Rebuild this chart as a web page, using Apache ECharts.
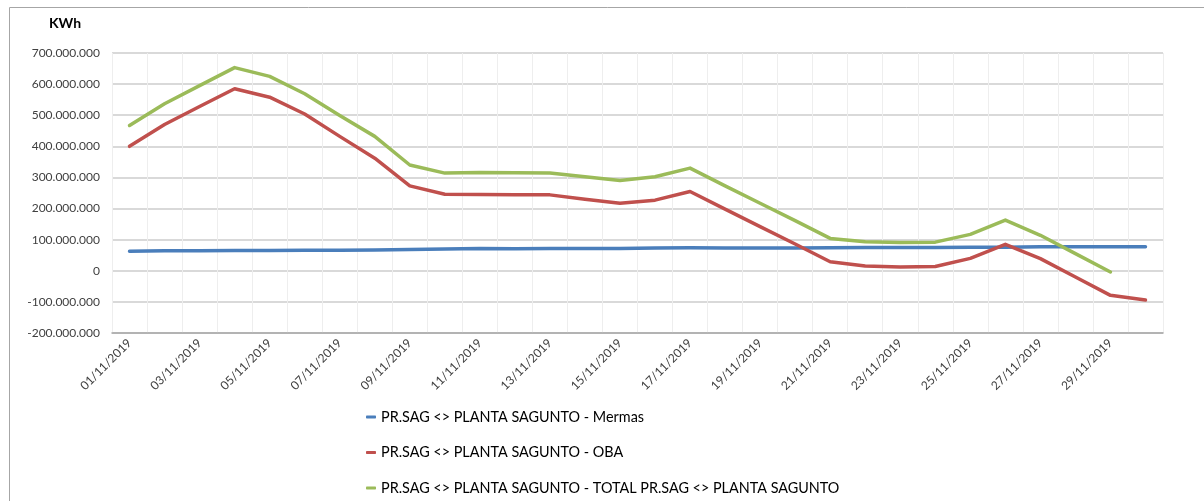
<!DOCTYPE html>
<html>
<head>
<meta charset="utf-8">
<script src="https://cdn.jsdelivr.net/npm/echarts@6/dist/echarts.min.js"></script>
<style>
  html, body { margin: 0; padding: 0; background: #fff; }
  #chart { width: 1204px; height: 501px; }
</style>
</head>
<body>
<div id="chart"></div>
<script>
// days of November 2019
const dias = [
  '01/11/2019', '02/11/2019', '03/11/2019', '04/11/2019', '05/11/2019', '06/11/2019',
  '07/11/2019', '08/11/2019', '09/11/2019', '10/11/2019', '11/11/2019', '12/11/2019',
  '13/11/2019', '14/11/2019', '15/11/2019', '16/11/2019', '17/11/2019', '18/11/2019',
  '19/11/2019', '20/11/2019', '21/11/2019', '22/11/2019', '23/11/2019', '24/11/2019',
  '25/11/2019', '26/11/2019', '27/11/2019', '28/11/2019', '29/11/2019', '30/11/2019'
];

const mermas = [
  63000000, 64000000, 64000000, 65000000, 65000000, 66000000, 66000000, 67000000, 68000000, 70000000,
  72000000, 71000000, 72000000, 72000000, 72000000, 73000000, 74000000, 73000000, 73000000, 73000000,
  74000000, 75000000, 75000000, 75000000, 76000000, 76000000, 77000000, 77000000, 77000000, 77000000
];

const oba = [
  400000000, 470000000, 528000000, 585000000, 558000000, 504000000, 432000000, 362000000, 273000000, 246000000,
  245000000, 244000000, 244000000, 230000000, 217000000, 227000000, 255000000, 198000000, 142000000, 86000000,
  29000000, 15000000, 12000000, 14000000, 40000000, 85000000, 39000000, -20000000, -79000000, -94000000
];

const total = [
  467000000, 537000000, 595000000, 653000000, 625000000, 569000000, 499000000, 432000000, 340000000, 314000000,
  316000000, 315000000, 314000000, 302000000, 290000000, 302000000, 330000000, 273000000, 217000000, 161000000,
  104000000, 93000000, 91000000, 92000000, 117000000, 163000000, 114000000, 55000000, -4000000, null
];

const nombres = [
  'PR.SAG <> PLANTA SAGUNTO - Mermas',
  'PR.SAG <> PLANTA SAGUNTO - OBA',
  'PR.SAG <> PLANTA SAGUNTO - TOTAL PR.SAG <> PLANTA SAGUNTO'
];
const colores = ['#4a7ebb', '#c0504d', '#9bbb59'];

const fuente = 'Lato, "Liberation Sans", sans-serif';

function miles(v) {
  return String(v).replace(/\B(?=(\d{3})+(?!\d))/g, '.');
}

const chart = echarts.init(document.getElementById('chart'));

chart.setOption({
  animation: false,
  backgroundColor: '#fff',
  title: {
    text: 'KWh',
    left: 49,
    top: 16,
    padding: 0,
    textStyle: { fontFamily: fuente, fontSize: 14, fontWeight: 'bold', color: '#000' }
  },
  graphic: [{
    type: 'rect',
    shape: { x: 9.5, y: 7.5, width: 1400, height: 700 },
    style: { fill: 'none', stroke: '#a6a6a6', lineWidth: 1 },
    silent: true
  }],
  legend: {
    orient: 'vertical',
    left: 361,
    top: 402,
    height: 200,
    itemWidth: 10,
    itemHeight: 3,
    itemGap: 15.5,
    icon: 'roundRect',
    textStyle: { fontFamily: fuente, fontSize: 14.4, color: '#000', lineHeight: 20 },
    data: nombres
  },
  grid: {
    left: 112,
    right: 41,
    top: 53,
    bottom: 168,
    containLabel: false
  },
  xAxis: {
    type: 'category',
    data: dias,
    boundaryGap: true,
    axisLine: { onZero: false, lineStyle: { color: '#a6a6a6', width: 1.5 } },
    axisTick: { interval: 0, length: 5, lineStyle: { color: '#a6a6a6' } },
    axisLabel: {
      interval: 1,
      rotate: 45,
      margin: 8,
      fontFamily: fuente,
      fontSize: 12,
      color: '#404040'
    },
    splitLine: { show: true, interval: 0, lineStyle: { color: '#eeeeee', width: 1 } }
  },
  yAxis: {
    type: 'value',
    min: -200000000,
    max: 700000000,
    interval: 100000000,
    axisLine: { show: false },
    axisTick: { show: false },
    axisLabel: {
      margin: 12,
      fontFamily: fuente,
      fontSize: 12,
      color: '#404040',
      formatter: miles
    },
    splitLine: { lineStyle: { color: '#d9d9d9', width: 2 } }
  },
  series: [
    {
      name: nombres[0], type: 'line', data: mermas, symbol: 'none',
      itemStyle: { color: colores[0] },
      lineStyle: { color: colores[0], width: 3.5, cap: 'round', join: 'round' }
    },
    {
      name: nombres[1], type: 'line', data: oba, symbol: 'none',
      itemStyle: { color: colores[1] },
      lineStyle: { color: colores[1], width: 3.5, cap: 'round', join: 'round' }
    },
    {
      name: nombres[2], type: 'line', data: total, symbol: 'none',
      itemStyle: { color: colores[2] },
      lineStyle: { color: colores[2], width: 3.5, cap: 'round', join: 'round' }
    }
  ]
});
</script>
</body>
</html>
